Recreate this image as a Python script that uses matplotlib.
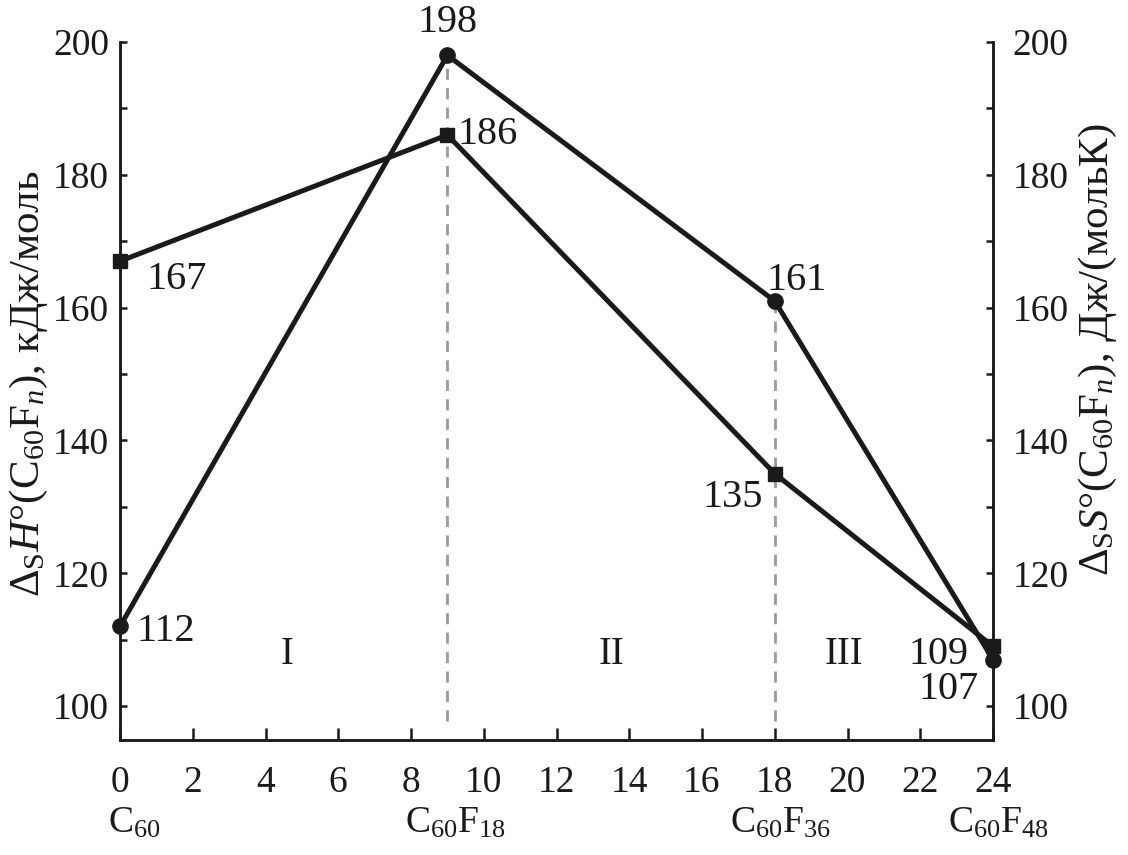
import matplotlib
matplotlib.use("Agg")
import matplotlib.pyplot as plt
from matplotlib.ticker import MultipleLocator

plt.rcParams['font.family'] = ['Liberation Serif', 'DejaVu Serif']
plt.rcParams['mathtext.fontset'] = 'custom'
plt.rcParams['mathtext.rm'] = 'Liberation Serif'
plt.rcParams['mathtext.it'] = 'Liberation Serif:italic'
plt.rcParams['mathtext.bf'] = 'Liberation Serif:bold'

# data
n_vals = [0, 9, 18, 24]
dH = [167, 186, 135, 109]      # kJ/mol, squares, left axis
dS = [112, 198, 161, 107]      # J/(mol K), circles, right axis
compounds = [r'C$_{60}$', r'C$_{60}$F$_{18}$', r'C$_{60}$F$_{36}$', r'C$_{60}$F$_{48}$']
regions = ['I', 'II', 'III']
region_x = [4.6, 13.5, 19.9]
region_y = 107.7

# label offsets in pixels (dx, dy, ha)
dH_off = [(26, -18, 'left'), (10, 0, 'left'), (-12, -24, 'right'), (-24, -8, 'right')]
dS_off = [(16, -5, 'left'), (0, 33, 'center'), (-8, 21, 'left'), (-14, -30, 'right')]
comp_dx = [14, 8, 6, 5]

ink = '#1a1a1a'

fig = plt.figure(figsize=(11.28, 8.55), dpi=100)
ax = fig.add_axes([120 / 1128, 115 / 855, 873 / 1128, 698 / 855])
ax2 = ax.twinx()

ax.set_xlim(0, 24)
ax.set_ylim(94.9, 200)
ax2.set_ylim(94.9, 200)

# dashed guides
ax.plot([9, 9], [97.8, dS[1]], color='#999999', lw=2, ls=(0, (4, 3)), zorder=1)
ax.plot([18, 18], [97.8, dS[2]], color='#999999', lw=2, ls=(0, (4, 3)), zorder=1)

ax.plot(n_vals, dH, color=ink, lw=3.6, marker='s', ms=10, clip_on=False, zorder=3)
ax2.plot(n_vals, dS, color=ink, lw=3.6, marker='o', ms=11, clip_on=False, zorder=3)

for x, y, (dx, dy, ha) in zip(n_vals, dH, dH_off):
    ax.annotate(str(y), (x, y), xytext=(dx, dy), textcoords='offset pixels',
                ha=ha, va='center', fontsize=29, color=ink)
for x, y, (dx, dy, ha) in zip(n_vals, dS, dS_off):
    ax2.annotate(str(y), (x, y), xytext=(dx, dy), textcoords='offset pixels',
                 ha=ha, va='center', fontsize=29, color=ink)

for rx, r in zip(region_x, regions):
    ax.text(rx, region_y, r, ha='center', va='center', fontsize=28, color=ink)

for x, c, dx in zip(n_vals, compounds, comp_dx):
    ax.annotate(c, (x, 0), xycoords=('data', 'axes fraction'), xytext=(dx, -66),
                textcoords='offset pixels', ha='center', va='top', fontsize=27,
                color=ink, annotation_clip=False)

ax.xaxis.set_major_locator(MultipleLocator(2))
ax.yaxis.set_major_locator(MultipleLocator(20))
ax.yaxis.set_minor_locator(MultipleLocator(10))
ax2.yaxis.set_major_locator(MultipleLocator(20))
ax2.yaxis.set_minor_locator(MultipleLocator(10))

for a in (ax, ax2):
    a.spines['top'].set_visible(False)
    for s in a.spines.values():
        s.set_linewidth(1.8)
        s.set_color(ink)

ax.tick_params(axis='x', direction='in', length=9, width=1.8, pad=18, labelsize=27, colors=ink)
ax.tick_params(axis='y', which='both', direction='in', length=5, width=1.8, pad=8, labelsize=27, colors=ink)
ax2.tick_params(axis='y', which='both', direction='in', length=5, width=1.8, pad=14, labelsize=27, colors=ink)

ax.set_ylabel(r'$\Delta_\mathrm{S}\mathit{H}$°(C$_{60}$F$_{\mathit{n}}$), кДж/моль', fontsize=31, color=ink)
ax.yaxis.set_label_coords(-0.08, 0.51)
ax2.set_ylabel(r'$\Delta_\mathrm{S}\mathit{S}$°(C$_{60}$F$_{\mathit{n}}$), Дж/(мольК)', fontsize=31,
               color=ink)
ax2.yaxis.set_label_coords(1.096, 0.56)

fig.savefig('out.png', dpi=100)
